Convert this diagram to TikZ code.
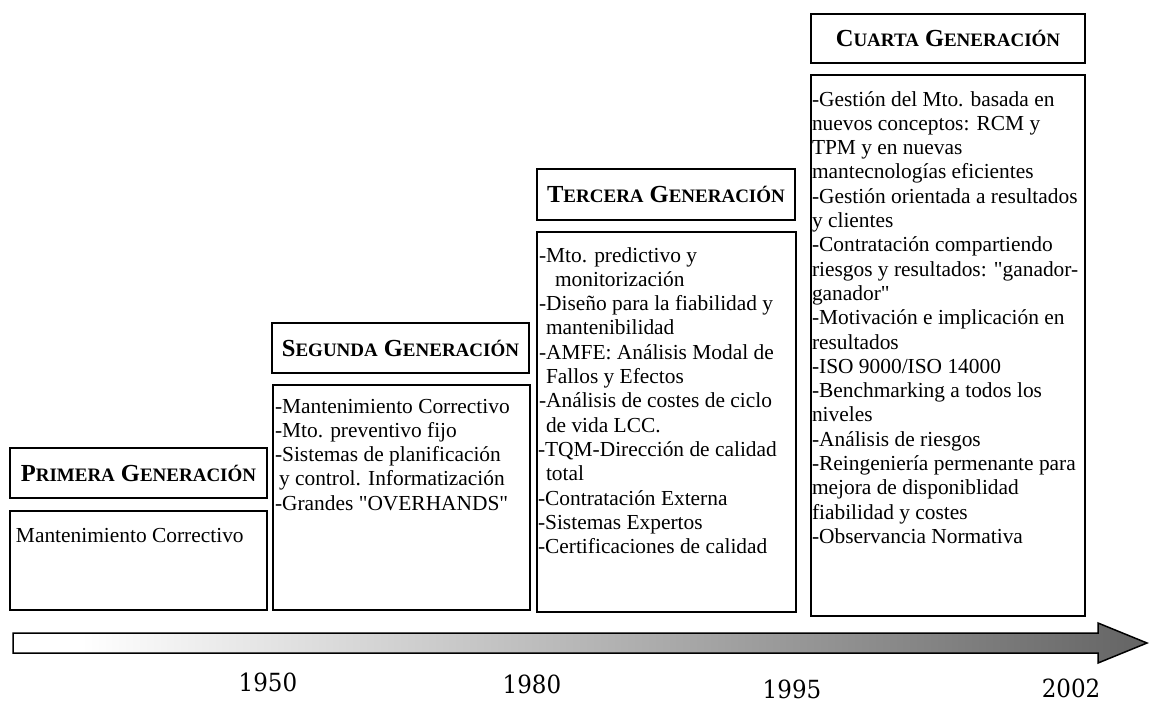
\documentclass[tikz,border=0pt]{standalone}
\usepackage{fontspec}
\setmainfont{Liberation Serif}
\newfontfamily\yearfont[FakeStretch=0.92]{DejaVu Serif}
\definecolor{agray}{RGB}{100,100,100}
\pgfdeclarehorizontalshading{arrowshade}{100bp}{color(0bp)=(white); color(28bp)=(white); color(75bp)=(agray); color(100bp)=(agray)}
\newcommand{\sct}[2]{{\fontsize{24.5}{25}\selectfont #1}{\fontsize{19}{25}\selectfont #2}}
\newcommand{\scsp}{\hspace{6pt}}
\newcommand{\contentfont}{\fontsize{21.4}{24.3}\selectfont}
\tikzset{
  box/.style={draw=black, line width=1.6pt, inner sep=0pt, outer sep=0pt, anchor=north west},
  titletext/.style={font=\bfseries},
  bodytext/.style={anchor=base west, inner sep=0pt, outer sep=0pt, font=\contentfont, align=left},
  yeartext/.style={font=\yearfont\fontsize{25}{25}\selectfont, inner sep=0pt}
}
\begin{document}
\begin{tikzpicture}[x=1pt,y=-1pt]
\useasboundingbox (0,0) rectangle (1150,702);
% title boxes
\node[box, titletext, minimum width=257pt, minimum height=50pt] (t1) at (10,448) {\sct{P}{RIMERA}\scsp\sct{G}{ENERACIÓN}};
\node[box, titletext, minimum width=257pt, minimum height=50pt] (t2) at (272,323) {\sct{S}{EGUNDA}\scsp\sct{G}{ENERACIÓN}};
\node[box, titletext, minimum width=258pt, minimum height=51pt] (t3) at (537,169) {\sct{T}{ERCERA}\scsp\sct{G}{ENERACIÓN}};
\node[box, titletext, minimum width=274pt, minimum height=49pt] (t4) at (811,14) {\sct{C}{UARTA}\scsp\sct{G}{ENERACIÓN}};
% content boxes
\node[box, minimum width=257pt, minimum height=99pt] (c1) at (10,511) {};
\node[box, minimum width=257pt, minimum height=225pt] (c2) at (273,385) {};
\node[box, minimum width=259pt, minimum height=380pt] (c3) at (537,232) {};
\node[box, minimum width=274pt, minimum height=541pt] (c4) at (811,75) {};
% content texts
\node[bodytext] (c1t) at (16,542) {\parbox[t]{250pt}{Mantenimiento Correctivo}};
\node[bodytext] (c2t) at (275,413) {\parbox[t]{255pt}{\raggedright
-Mantenimiento Correctivo\\
-Mto. preventivo fijo\\
-Sistemas de planificación\\
\hspace*{4pt}y control. Informatización\\
-Grandes \textquotedbl OVERHANDS\textquotedbl}};
\node[bodytext] (c3t) at (539,262) {\parbox[t]{258pt}{\raggedright
-Mto. predictivo y\\
\hspace*{16pt}monitorización\\
-Diseño para la fiabilidad y\\
\hspace*{7pt}mantenibilidad\\
-AMFE: Análisis Modal de\\
\hspace*{7pt}Fallos y Efectos\\
-Análisis de costes de ciclo\\
\hspace*{7pt}de vida LCC.\\
\hspace*{-1pt}-TQM-Dirección de calidad\\
\hspace*{7pt}total\\
\hspace*{-1pt}-Contratación Externa\\
\hspace*{-1pt}-Sistemas Expertos\\
\hspace*{-1pt}-Certificaciones de calidad}};
\node[bodytext] (c4t) at (812,106) {\parbox[t]{272pt}{\raggedright
-Gestión del Mto. basada en\\
nuevos conceptos: RCM y\\
TPM y en nuevas\\
mantecnologías eficientes\\
-Gestión orientada a resultados\\
y clientes\\
-Contratación compartiendo\\
riesgos y resultados: \textquotedbl ganador-\\
ganador\textquotedbl\\
-Motivación e implicación en\\
resultados\\
-ISO 9000/ISO 14000\\
-Benchmarking a todos los\\
niveles\\
-Análisis de riesgos\\
-Reingeniería permenante para\\
mejora de disponiblidad\\
fiabilidad y costes\\
-Observancia Normativa}};
% timeline arrow
\shadedraw[shading=arrowshade, draw=black, line width=1.5pt, line join=miter]
  (13,633) -- (1098,633) -- (1098,623) -- (1147,643) -- (1098,663) -- (1098,653) -- (13,653) -- cycle;
% years
\node[yeartext] (y1950) at (268,682) {1950};
\node[yeartext] (y1980) at (532,684) {1980};
\node[yeartext] (y1995) at (792,689) {1995};
\node[yeartext] (y2002) at (1071,688) {2002};
\end{tikzpicture}
\end{document}
